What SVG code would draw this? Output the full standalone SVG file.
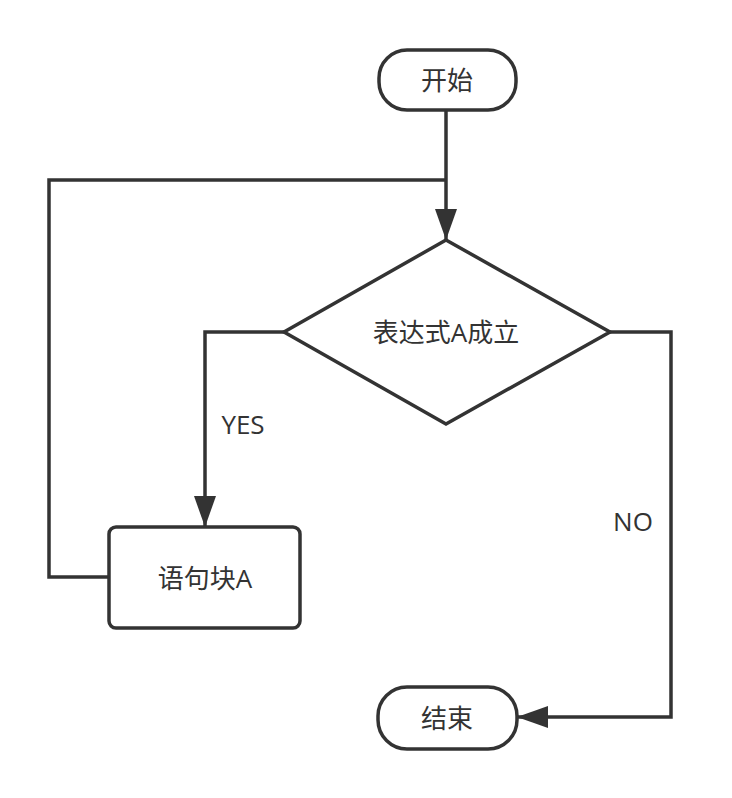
<svg xmlns="http://www.w3.org/2000/svg" width="732" height="798" viewBox="0 0 732 798">
<style>
.shape{fill:#fff;stroke:#333;stroke-width:3.5}
.edge{fill:none;stroke:#333;stroke-width:3.5}
text{font-family:"Open Sans","Noto Sans CJK SC",sans-serif;font-size:26px;fill:#333;text-anchor:middle;dominant-baseline:central}
</style>
<defs>
<marker id="arr" markerUnits="userSpaceOnUse" markerWidth="32" markerHeight="24" refX="31" refY="11" orient="auto">
<path d="M0,0 L31,11 L0,22 Z" fill="#333"/>
</marker>
</defs>
<rect width="732" height="798" fill="#fff"/>
<g id="connectors">
<path class="edge" d="M446,110 V240" marker-end="url(#arr)"/>
<path class="edge" d="M109,577 H49 V180 H446"/>
<path class="edge" d="M284,332 H205 V527" marker-end="url(#arr)"/>
<path class="edge" d="M610,332 H671 V717 H517" marker-end="url(#arr)"/>
<text x="243" y="424">YES</text>
<text x="633" y="521">NO</text>
</g>
<g id="start">
<rect class="shape" x="379" y="50" width="137" height="60" rx="28"/>
<text x="447" y="80">开始</text>
</g>
<g id="cond">
<polygon class="shape" points="446,240 610,332 446,424 284,332"/>
<text x="446" y="332">表达式A成立</text>
</g>
<g id="blockA">
<rect class="shape" x="109" y="527" width="191" height="101" rx="7"/>
<text x="205" y="578">语句块A</text>
</g>
<g id="end">
<rect class="shape" x="378" y="687" width="139" height="62" rx="29"/>
<text x="447" y="718">结束</text>
</g>
</svg>
